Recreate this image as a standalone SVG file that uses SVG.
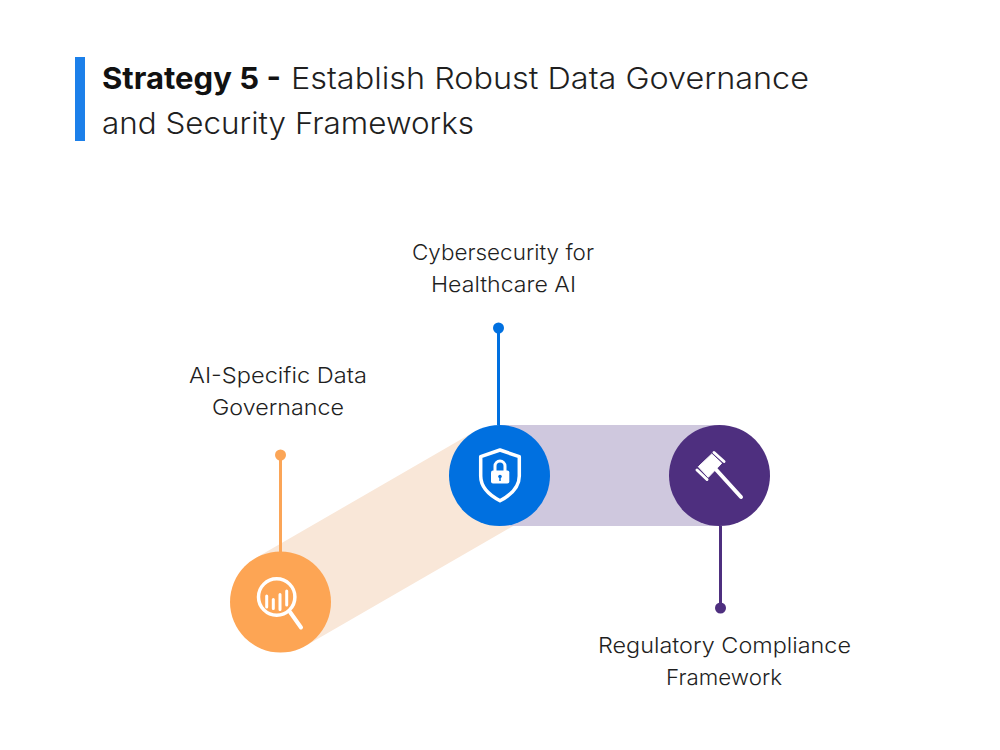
<svg xmlns="http://www.w3.org/2000/svg" width="1000" height="750" viewBox="0 0 1000 750">
<style>
text{font-family:"Inter","Lato","Liberation Sans",sans-serif;fill:#1f1f1f}
.t{font-size:30px;font-weight:300}
.b{font-weight:700;fill:#111}
.l{font-size:22px;font-weight:300}
.i{fill:none;stroke:#fff;stroke-linecap:round;stroke-linejoin:round}
</style>
<rect width="1000" height="750" fill="#fff"/>
<rect id="title-bar" x="75" y="57" width="10" height="84" fill="#1c80ea"/>
<g id="title">
<text class="t b" x="102" y="89" textLength="179" lengthAdjust="spacingAndGlyphs">Strategy 5 -</text>
<text class="t" x="291" y="89" textLength="518" lengthAdjust="spacingAndGlyphs">Establish Robust Data Governance</text>
<text class="t" x="102" y="134" textLength="372" lengthAdjust="spacingAndGlyphs">and Security Frameworks</text>
</g>
<g id="connectors">
<path d="M255.300 558.300L474.200 431.700L524.800 519.300L305.700 645.700Z" fill="#f9e7d8"/>
<rect x="499.500" y="425" width="220" height="101" fill="#cfc8de"/>
<path d="M280.500 455V552" stroke="#fba557" stroke-width="3" fill="none"/>
<circle cx="280.500" cy="455" r="5.500" fill="#fba557"/>
<path d="M498.500 328V425" stroke="#0070e0" stroke-width="3" fill="none"/>
<circle cx="498.500" cy="328" r="5.500" fill="#0070e0"/>
<path d="M720.500 526V608" stroke="#4e2f7f" stroke-width="3" fill="none"/>
<circle cx="720.500" cy="608" r="5.500" fill="#4e2f7f"/>
</g>
<g id="node-data-governance">
<circle cx="280.500" cy="602" r="50.500" fill="#fda554"/>
<circle class="i" cx="276.700" cy="597" r="18.200" stroke-width="3.500"/>
<path class="i" d="M290 612L301 627.500" stroke-width="4"/>
<path class="i" d="M266.700 596V607M273.300 599.500V608.500M280 594.500V609.500M286.700 591V605" stroke-width="3"/>
<text class="l" text-anchor="middle" x="278" y="383" textLength="178" lengthAdjust="spacingAndGlyphs">AI-Specific Data</text>
<text class="l" text-anchor="middle" x="278" y="415" textLength="132" lengthAdjust="spacingAndGlyphs">Governance</text>
</g>
<g id="node-cybersecurity">
<circle cx="499.500" cy="475.500" r="50.500" fill="#0070e0"/>
<path class="i" d="M500 450L519.300 456.700V476C519.300 487 510 495.500 500 500.700C490 495.500 480.700 487 480.700 476V456.700Z" stroke-width="3.500"/>
<rect x="491" y="470.500" width="18.300" height="13" rx="2" fill="#fff"/>
<path class="i" d="M495 471V466A5 5 0 0 1 505 466V471" stroke-width="3"/>
<circle cx="500" cy="476.500" r="1.800" fill="#0070e0"/>
<path d="M500 476.500V481" stroke="#0070e0" stroke-width="1.500"/>
<text class="l" text-anchor="middle" x="503" y="260" textLength="182" lengthAdjust="spacingAndGlyphs">Cybersecurity for</text>
<text class="l" text-anchor="middle" x="503.500" y="292" textLength="145" lengthAdjust="spacingAndGlyphs">Healthcare AI</text>
</g>
<g id="node-regulatory">
<circle cx="719.500" cy="475.500" r="50.500" fill="#4e2f7f"/>
<path d="M711.700 454L721.700 463.300L708.300 477.300L698.300 466.700Z" fill="#fff" stroke="#fff" stroke-width="1" stroke-linejoin="round"/>
<path class="i" d="M714 452.500L724 461.500M697 470L707 479.500" stroke-width="3"/>
<path class="i" d="M716 469.500L741 497" stroke-width="4"/>
<text class="l" text-anchor="middle" x="724.500" y="653" textLength="253" lengthAdjust="spacingAndGlyphs">Regulatory Compliance</text>
<text class="l" text-anchor="middle" x="724" y="685" textLength="116" lengthAdjust="spacingAndGlyphs">Framework</text>
</g>
</svg>
